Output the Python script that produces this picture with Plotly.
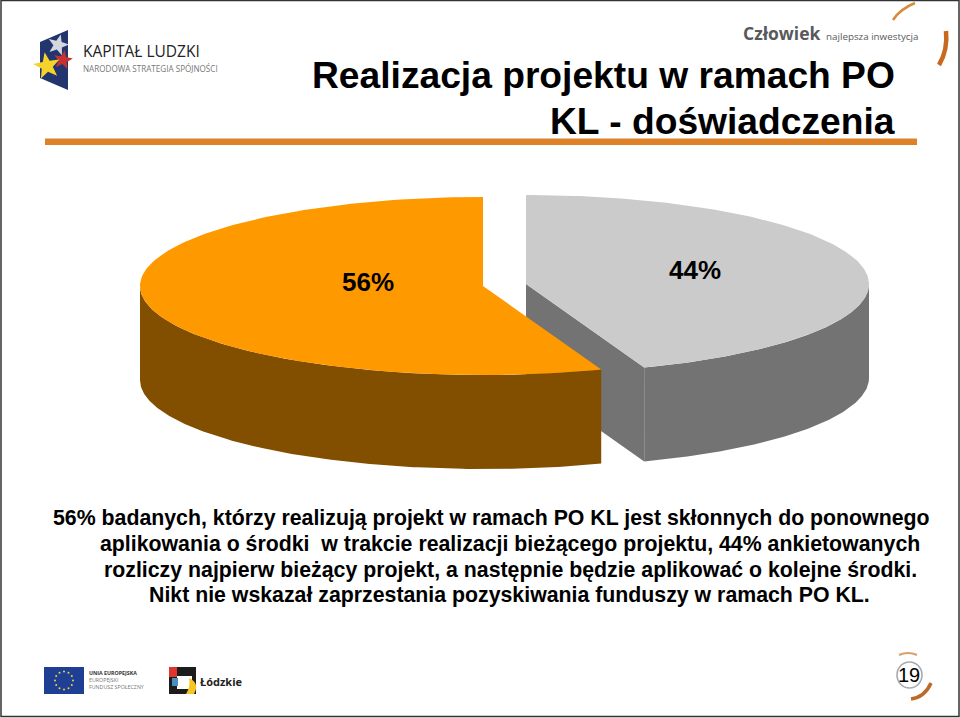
import numpy as np
import plotly.graph_objects as go

# ---- data ----
slice_names = ["Realizują projekt", "Rozliczą najpierw bieżący projekt"]
slice_values = [55.6, 44.4]
slice_labels = ["56%", "44%"]
title_lines = ["Realizacja projektu w ramach PO", "KL - doświadczenia"]
body_lines = [
    "56% badanych, którzy realizują projekt w ramach PO KL jest skłonnych do ponownego",
    "aplikowania o środki  w trakcie realizacji bieżącego projektu, 44% ankietowanych",
    "rozliczy najpierw bieżący projekt, a następnie będzie aplikować o kolejne środki.",
    "Nikt nie wskazał zaprzestania pozyskiwania funduszy w ramach PO KL.",
]
page_number = "19"

# ---- pie geometry (pixel space of the slide) ----
RX, RY, DEPTH = 343, 89, 94
ORANGE_C = (483, 286)
GRAY_C = (526, 284)
TOP = {"orange": "#FF9900", "gray": "#CBCBCB"}
SIDE = {"orange": "#824E00", "gray": "#737373"}

def rim(c, a_from, a_to, dy=0, n=160):
    """Clock angles in degrees, 0 = up, increasing clockwise."""
    a = np.radians(np.linspace(a_from, a_to, n))
    return c[0] + RX * np.sin(a), c[1] - RY * np.cos(a) + dy

def poly(x, y, color):
    return go.Scatter(x=list(x), y=list(y), mode="lines", fill="toself", fillcolor=color,
                      line=dict(width=0, color=color), hoverinfo="skip", showlegend=False)

orange_deg = slice_values[0] / sum(slice_values) * 360
gray_deg = slice_values[1] / sum(slice_values) * 360

fig = go.Figure()

# gray slice: clockwise from the top
gx_end, gy_end = rim(GRAY_C, gray_deg, gray_deg, n=1)
fig.add_trace(poly([GRAY_C[0], gx_end[0], gx_end[0], GRAY_C[0]],
                   [GRAY_C[1], gy_end[0], gy_end[0] + DEPTH, GRAY_C[1] + DEPTH], SIDE["gray"]))
x1, y1 = rim(GRAY_C, 90, gray_deg)
x2, y2 = rim(GRAY_C, gray_deg, 90, dy=DEPTH)
fig.add_trace(poly(np.r_[x1, x2], np.r_[y1, y2], SIDE["gray"]))
x1, y1 = rim(GRAY_C, 0, gray_deg)
fig.add_trace(poly(np.r_[GRAY_C[0], x1, GRAY_C[0]], np.r_[GRAY_C[1], y1, GRAY_C[1]], TOP["gray"]))

# orange slice: counter-clockwise from the top
start = 360 - orange_deg
x1, y1 = rim(ORANGE_C, start, 270)
x2, y2 = rim(ORANGE_C, 270, start, dy=DEPTH)
fig.add_trace(poly(np.r_[x1, x2], np.r_[y1, y2], SIDE["orange"]))
x1, y1 = rim(ORANGE_C, start, 360)
fig.add_trace(poly(np.r_[ORANGE_C[0], x1, ORANGE_C[0]], np.r_[ORANGE_C[1], y1, ORANGE_C[1]], TOP["orange"]))

# ---- slide furniture ----
ARIAL = "Liberation Sans"
shapes = []
def path(d, fill, line=None, w=0):
    shapes.append(dict(type="path", path=d, fillcolor=fill, xref="x", yref="y", layer="above",
                       line=dict(color=line or fill, width=w)))
def rect(x0, y0, x1_, y1_, fill):
    shapes.append(dict(type="rect", x0=x0, y0=y0, x1=x1_, y1=y1_, fillcolor=fill, xref="x", yref="y",
                       layer="above", line=dict(width=0)))
def star(cx, cy, r, fill, rot=0):
    pts = []
    for i in range(10):
        rr = r if i % 2 == 0 else r * 0.42
        t = np.radians(rot + i * 36)
        pts.append(f"{cx + rr*np.sin(t):.1f},{cy - rr*np.cos(t):.1f}")
    path("M" + " L".join(pts) + " Z", fill)

# frame
shapes.append(dict(type="rect", x0=1, y0=0.5, x1=959, y1=716.5, xref="x", yref="y", layer="below",
                   line=dict(color="#333333", width=1.5), fillcolor="white"))
# rule
rect(45, 138.5, 917, 145, "#DD8229")
# Kapitał Ludzki logo
path("M40,42 L68,30 L68,90 L40,78 Z", "#22356F")
star(58, 45, 11, "#D5D7DE", 15)
star(63, 60, 10, "#C8322E", 10)
star(47, 66, 14, "#F6D32A", -10)
# Czlowiek arcs
path("M893,20 Q900,9 915,3", "rgba(0,0,0,0)", "#D98A3A", 2.5)
path("M946,31 Q948,50 939,65", "rgba(0,0,0,0)", "#C9681F", 4.5)
# EU flag
rect(44, 667, 84, 694, "#1F3F94")
for i in range(12):
    t = np.radians(i * 30)
    shapes.append(dict(type="circle", x0=64 + 9*np.sin(t) - 1, x1=64 + 9*np.sin(t) + 1,
                       y0=680.5 - 9*np.cos(t) - 1, y1=680.5 - 9*np.cos(t) + 1,
                       fillcolor="#E8D24A", xref="x", yref="y", layer="above", line=dict(width=0)))
# Lodzkie logo
rect(169, 667, 196, 694, "#1C1C1C")
rect(169, 667, 177, 677, "#E0352B")
rect(177, 676, 192, 689, "#FFFFFF")
rect(172, 678, 178, 686, "#4A8FC0")
path("M189,678 Q200,683 194,694 L186,694 Q191,686 189,678 Z", "#F4C61F")
# page number ornament
shapes.append(dict(type="circle", x0=897, x1=922, y0=662, y1=688, xref="x", yref="y", layer="above",
                   fillcolor="white", line=dict(color="#A8ABAE", width=1.6)))
path("M899,655 Q908,651 917,655", "rgba(0,0,0,0)", "#D9A06A", 2)
path("M911,699 Q925,697 931,683", "rgba(0,0,0,0)", "#BD6A28", 3.5)

fig.update_layout(shapes=shapes)

# ---- text ----
def txt(x, y, s, size, color="black", bold=False, anchor="center", family=ARIAL):
    fig.add_annotation(x=x, y=y, text=f"<b>{s}</b>" if bold else s, showarrow=False, xref="x", yref="y",
                       xanchor=anchor, yanchor="middle", align=anchor, borderpad=0,
                       font=dict(family=family, size=size, color=color))

txt(895.5, 75, title_lines[0], 37.2, bold=True, anchor="right")
txt(895.5, 121, title_lines[1], 37.2, bold=True, anchor="right")
for s, xc, y in zip(body_lines, [491.5, 509.5, 510.5, 509.5], [518, 544, 570, 595]):
    txt(xc, y, s, 21.3, bold=True)
txt(368, 282, slice_labels[0], 26, bold=True)
txt(695, 270, slice_labels[1], 26, bold=True)
txt(909, 675, page_number, 20)

txt(82, 51, "KAPITAŁ LUDZKI", 15.5, color="#222222", anchor="left", family="Open Sans")
txt(82, 68.5, "NARODOWA STRATEGIA SPÓJNOŚCI", 8.1, color="#777777", anchor="left", family="Open Sans")
txt(742, 33, "<b>Człowiek</b>", 17.5, color="#58595B", anchor="left", family="Open Sans")
txt(825, 36, "najlepsza inwestycja", 9.8, color="#58595B", anchor="left", family="Open Sans")
txt(88, 673, "<b>UNIA EUROPEJSKA</b>", 5.3, color="#333333", anchor="left", family="Open Sans")
txt(88, 680, "EUROPEJSKI", 5.3, color="#777777", anchor="left", family="Open Sans")
txt(88, 687, "FUNDUSZ SPOŁECZNY", 5.3, color="#777777", anchor="left", family="Open Sans")
txt(199, 681, "<b>Łódzkie</b>", 11, color="#222222", anchor="left", family="Open Sans")

fig.update_xaxes(range=[0, 960], visible=False, fixedrange=True)
fig.update_yaxes(range=[718, 0], visible=False, fixedrange=True)
fig.update_layout(width=960, height=718, margin=dict(l=0, r=0, t=0, b=0),
                  paper_bgcolor="white", plot_bgcolor="white", showlegend=False)
fig.write_html("out.html", config={"displayModeBar": False},
               post_script="document.body.style.margin='0';document.body.style.overflow='hidden';")
